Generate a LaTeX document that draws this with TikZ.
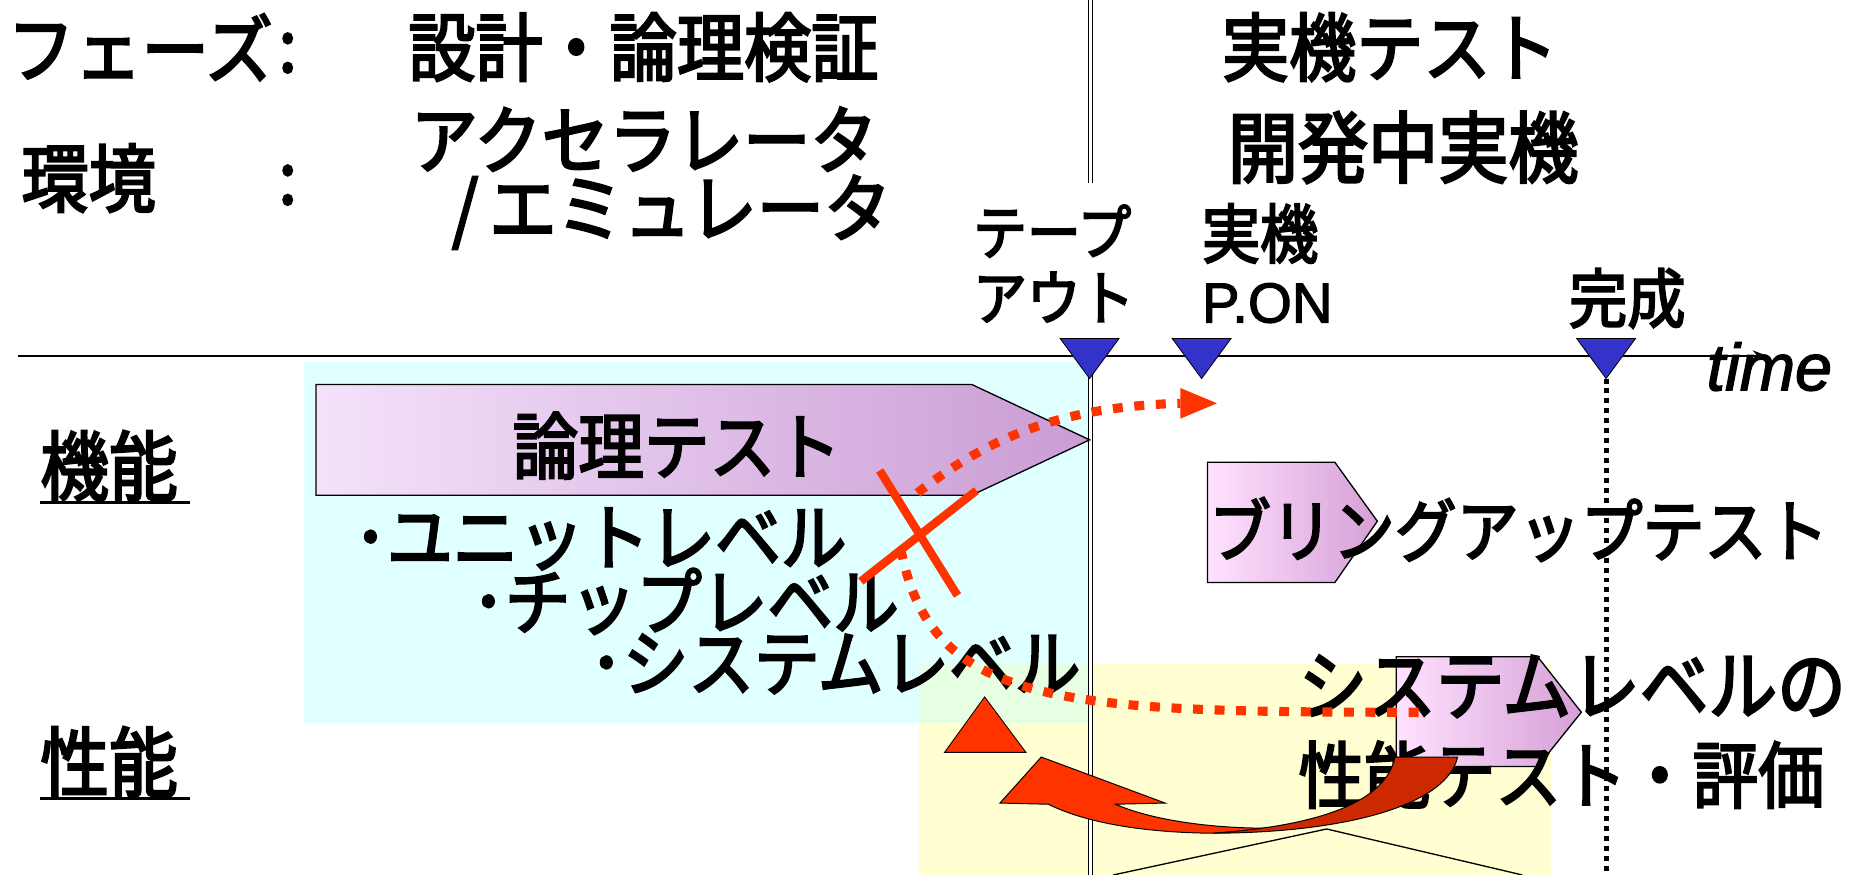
\documentclass[tikz,border=0pt]{standalone}
\usepackage{fontspec}
\setmainfont{Noto Sans CJK JP}[FakeStretch=0.9, FakeBold=3]
\newfontfamily\arialfont{Liberation Sans}[FakeBold=2]
\usetikzlibrary{arrows.meta}
\definecolor{cyanbg}{RGB}{224,255,255}
\definecolor{yelbg}{RGB}{255,255,210}
\definecolor{mixbg}{RGB}{230,255,226}
\definecolor{purL}{RGB}{244,226,251}
\definecolor{purR}{RGB}{202,156,212}
\definecolor{pinkL}{RGB}{255,226,255}
\definecolor{pinkR}{RGB}{214,160,214}
\definecolor{msblue}{RGB}{51,51,204}
\definecolor{hot}{RGB}{255,51,0}
\definecolor{hotdark}{RGB}{204,41,0}
\begin{document}
\begin{tikzpicture}[x=0.025cm, y=-0.025cm,
  txt/.style={inner sep=0pt, anchor=west, font=\fontsize{44}{52}\selectfont},
  head/.style={inner sep=0pt, anchor=west, font=\fontsize{45}{52}\selectfont},
  big/.style={inner sep=0pt, anchor=west, font=\fontsize{46}{54}\selectfont},
  lbl/.style={inner sep=0pt, anchor=west, font=\fontsize{36}{42}\selectfont},
  lat/.style={inner sep=0pt, anchor=west, font=\arialfont\fontsize{34}{40}\selectfont},
  milestone/.style={draw=black, line width=0.5pt, fill=msblue},
  pentbig/.style={draw=black, line width=0.8pt, left color=purL, right color=purR},
  pentsmall/.style={draw=black, line width=0.8pt, left color=pinkL, right color=pinkR},
  redcross/.style={hot, line width=5pt},
  reddots/.style={hot, line width=5.5pt, dash pattern=on 6pt off 7pt},
  vdouble/.style={double, double distance=1.8pt, line width=0.7pt},
  vdot/.style={line width=3pt, dash pattern=on 3pt off 3pt},
  ul/.style={line width=2pt},
  thinline/.style={line width=0.8pt},
  arrowbody/.style={draw=black, line width=0.6pt}]
\useasboundingbox (0,0) rectangle (1568,742);
% backgrounds
\fill[cyanbg] (258,307) rectangle (923,613);
\fill[yelbg] (779,563) rectangle (1315,742);
\fill[mixbg] (779,563) rectangle (923,613);
% header texts
\node[head] (phase) at (6,40) {フェーズ};
\node[inner sep=0pt, font=\fontsize{44}{52}\selectfont] (colA) at (244,45) {:};
\node[head] (design) at (346,40) {設計・論理検証};
\node[head] (realtest) at (1036,40) {実機テスト};
\node[head] (env) at (18,151) {環境};
\node[inner sep=0pt, font=\fontsize{44}{52}\selectfont] (colB) at (244,157) {:};
\node[head] (accel) at (348,118) {アクセラレータ};
\node[head] (emu) at (383,180) {/\hspace{0.15em}エミュレータ};
\node[inner sep=0pt, anchor=west, font=\fontsize{47}{54}\selectfont] (devreal) at (1041,125) {開発中実機};
% milestone labels
\node[lbl] (tapeA) at (825,196) {テープ};
\node[lbl] (tapeB) at (825,252) {アウト};
\node[inner sep=0pt, anchor=west, font=\fontsize{39}{44}\selectfont] (realA) at (1019,198) {実機};
\node[lat] (realB) at (1019,257) {P.ON};
\node[inner sep=0pt, font=\fontsize{39}{44}\selectfont] (done) at (1380,253) {完成};
% vertical phase divider
\coordinate (divTop) at (925,0);
\coordinate (divMid) at (925,155);
\coordinate (divLow) at (925,300);
\coordinate (divBot) at (925,742);
\draw[vdouble] (divTop) -- (divMid);
\draw[vdouble] (divLow) -- (divBot);
% completion dotted line
\coordinate (doneTop) at (1362,321);
\coordinate (doneBot) at (1362,742);
\draw[vdot] (doneTop) -- (doneBot);
% timeline
\coordinate (tlS) at (15,302);
\coordinate (tlE) at (1499,302);
\draw[line width=1.3pt, -{Stealth[length=9pt,width=7pt]}] (tlS) -- (tlE);
\node[inner sep=0pt, anchor=base west, font=\arialfont\itshape\fontsize{40}{44}\selectfont] (timeLbl) at (1447,331) {time};
% milestones
\draw[milestone] (924,321) -- (899,287) -- (949,287) -- cycle;
\draw[milestone] (1019,321) -- (994,287) -- (1044,287) -- cycle;
\draw[milestone] (1362,321) -- (1337,287) -- (1387,287) -- cycle;
% logic test pentagon
\path[pentbig] (268,326) -- (824,326) -- (924,373) -- (824,420) -- (268,420) -- cycle;
\node[inner sep=0pt, font=\fontsize{44}{52}\selectfont] (logic) at (574,378) {論理テスト};
% bullets
\node[txt] (unit) at (300,457) {･ユニットレベル};
\node[txt] (chip) at (400,510) {･チップレベル};
\node[txt] (sys) at (500,563) {･システムレベル};
% bring-up
\path[pentsmall] (1024,392) -- (1132,392) -- (1168,442) -- (1132,494) -- (1024,494) -- cycle;
\node[inner sep=0pt, anchor=west, font=\fontsize{41.5}{48}\selectfont] (bring) at (1025,449) {ブリングアップテスト};
% system level perf test
\path[pentsmall] (1184,557) -- (1304,557) -- (1341,604) -- (1304,650) -- (1184,650) -- cycle;
\node[inner sep=0pt, anchor=west, font=\fontsize{46}{52}\selectfont] (sysperfA) at (1101,582) {システムレベルの};
\node[txt] (sysperfB) at (1101,657) {性能テスト・評価};
% left labels
\node[big] (func) at (34,395) {機能};
\node[big] (perf) at (34,646) {性能};
\draw[ul] (34,426) -- (161,426);
\draw[ul] (34,677) -- (161,677);
% faint lines under arrow
\draw[thinline] (944,742) -- (1125,703) -- (1291,742);
% red triangle
\draw[fill=hot, line width=0.5pt] (835,591) -- (870,638) -- (801,638) -- cycle;
% curved feedback arrow
\path[arrowbody, fill=hot] (883,642) -- (988,681) -- (946,682)
  .. controls (975,695) and (1030,704) .. (1090,702) -- (1029,706.6)
  .. controls (960,706) and (915,695) .. (889,682) -- (848,681) -- cycle;
\path[arrowbody, fill=hotdark] (1029,706.6) .. controls (1150,706) and (1228,680) .. (1236,642)
  -- (1183,642) .. controls (1175,680) and (1120,700) .. (1029,706.6) -- cycle;
% red cross
\draw[redcross] (746,399) -- (812,505);
\draw[redcross] (828,416) -- (730,493);
% dotted red connectors
\coordinate (xA) at (778,418);
\coordinate (ponArr) at (1001,342);
\coordinate (xB) at (764,466);
\coordinate (sysEnd) at (1208,604);
\draw[reddots] (xA) .. controls (840,370) and (900,345) .. (ponArr);
\fill[hot] (1001,329) -- (1032,342) -- (1001,355) -- cycle;
\draw[reddots] (xB) .. controls (790,600) and (900,604) .. (sysEnd);
\end{tikzpicture}
\end{document}
